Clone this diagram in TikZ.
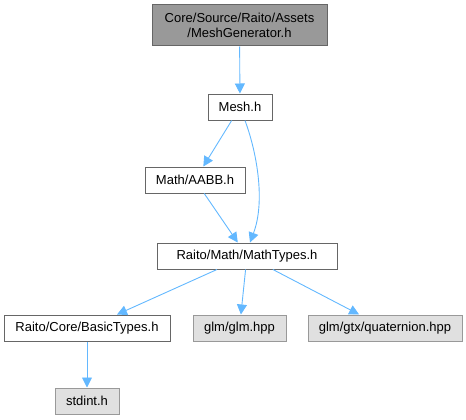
\documentclass[tikz,border=0pt]{standalone}
\usepackage{fontspec}
\setmainfont{Liberation Sans}
\usetikzlibrary{arrows.meta}
\definecolor{edgeblue}{HTML}{63B8FF}
\definecolor{topgray}{HTML}{999999}
\definecolor{sysgray}{HTML}{E0E0E0}
\begin{document}
\begin{tikzpicture}[x=1pt,y=-1pt,
    file/.style={draw=black!60,fill=white,line width=1pt,font=\fontsize{13}{15}\selectfont,minimum height=26pt,inner xsep=4pt},
    sys/.style={file,draw=black!40,fill=sysgray},
    dep/.style={color=edgeblue,line width=0.9pt,-{Triangle[length=10pt,width=10pt]}}]
    \useasboundingbox (0,0) rectangle (466,420);
    \node[file,fill=topgray,align=center,minimum width=175pt,minimum height=41pt] (gen) at (239.5,25.5) {Core/Source/Raito/Assets\\/MeshGenerator.h};
    \node[file,minimum width=64pt] (mesh) at (240,107) {Mesh.h};
    \node[file,minimum width=100pt] (aabb) at (195,180) {Math/AABB.h};
    \node[file,minimum width=180pt] (types) at (247,256) {Raito/Math/MathTypes.h};
    \node[file,minimum width=166pt] (basic) at (87,328) {Raito/Core/BasicTypes.h};
    \node[sys,minimum width=93pt] (glm) at (239.5,328) {glm/glm.hpp};
    \node[sys,minimum width=154pt] (quat) at (385,328) {glm/gtx/quaternion.hpp};
    \node[sys,minimum width=64pt] (stdint) at (87,401) {stdint.h};
    \path (gen) edge[dep] (mesh)
    (mesh) edge[dep] (aabb)
    (aabb) edge[dep] (types)
    (types) edge[dep] (basic)
    (types) edge[dep] (glm)
    (types) edge[dep] (quat)
    (basic) edge[dep] (stdint);
    \draw[dep] (mesh.south)++(5,0) .. controls (256,150) and (266,200) .. (types.north-|250,0);
  \end{tikzpicture}
\end{document}
